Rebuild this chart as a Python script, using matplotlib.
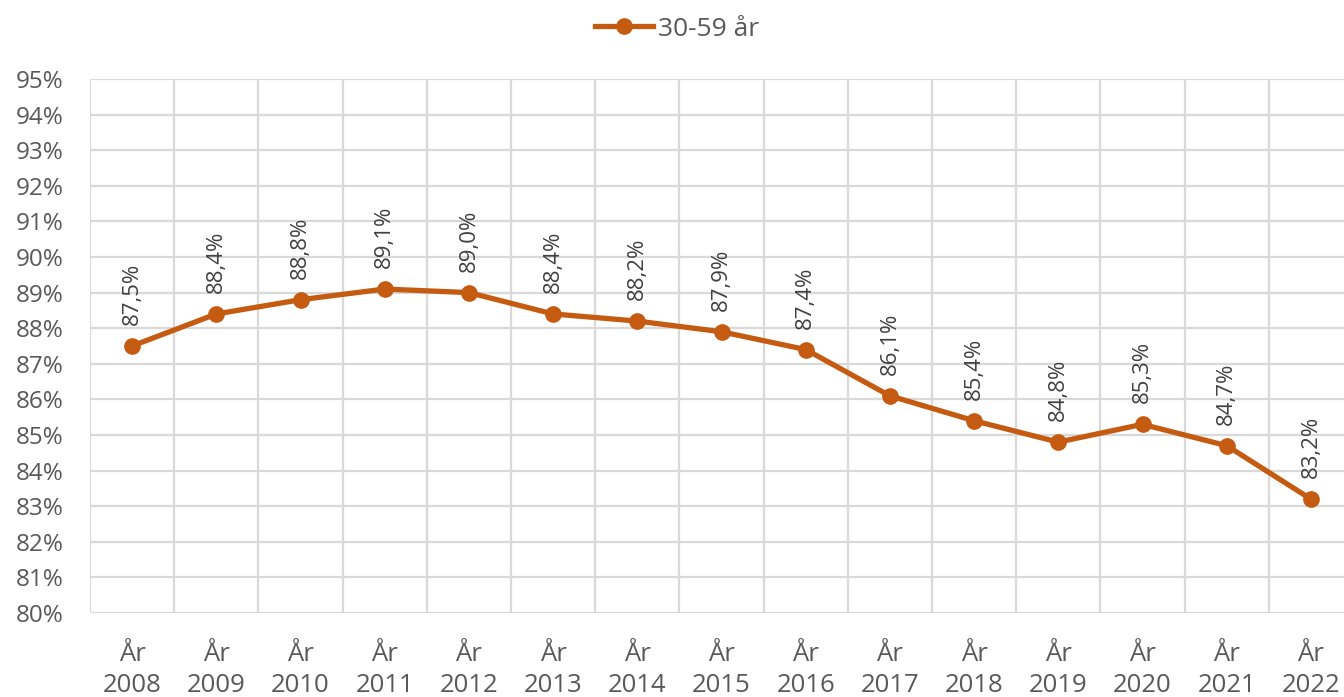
import matplotlib

matplotlib.use("Agg")
import matplotlib.pyplot as plt
from matplotlib.ticker import FixedLocator

YEARS = [2008, 2009, 2010, 2011, 2012, 2013, 2014, 2015, 2016, 2017, 2018,
         2019, 2020, 2021, 2022]
SHARE = [87.5, 88.4, 88.8, 89.1, 89.0, 88.4, 88.2, 87.9, 87.4, 86.1, 85.4,
         84.8, 85.3, 84.7, 83.2]
SERIES = "30-59 år"
YTICKS = list(range(80, 96))

ORANGE = "#C55A11"
GRID = "#D9D9D9"
TXT = "#595959"

plt.rcParams["font.family"] = ["Open Sans", "DejaVu Sans"]


def main() -> None:
    fig = plt.figure(figsize=(13.44, 6.97), dpi=100)
    ax = fig.add_axes([90 / 1344, 1 - 613 / 697, 1263 / 1344, 534 / 697])

    x = list(range(len(YEARS)))
    ax.plot(x, SHARE, "o-", color=ORANGE, lw=3.8, ms=11, label=SERIES,
            zorder=3, clip_on=False)

    for xi, v in zip(x, SHARE):
        ax.annotate(f"{v:.1f}%".replace(".", ","), (xi, v), rotation=90,
                    ha="center", va="bottom", fontsize=16, color="#404040",
                    textcoords="offset points", xytext=(0, 15))

    ax.set_xlim(-0.5, len(YEARS) - 0.5)
    ax.set_ylim(80, 95)
    ax.set_yticks(YTICKS)
    ax.set_yticklabels([f"{t}%" for t in YTICKS])
    ax.set_xticks(x)
    ax.set_xticklabels([f"År\n{y}" for y in YEARS], linespacing=1.3)
    ax.xaxis.set_minor_locator(FixedLocator([i - 0.5 for i in range(len(YEARS) + 1)]))

    ax.grid(axis="y", which="major", color=GRID, lw=1.6)
    ax.grid(axis="x", which="minor", color=GRID, lw=1.6)
    ax.grid(axis="x", which="major", visible=False)
    ax.set_axisbelow(True)
    for s in ax.spines.values():
        s.set_visible(False)
    ax.tick_params(axis="both", which="both", length=0, colors=TXT)
    ax.tick_params(axis="y", pad=19, labelsize=17.5)
    ax.tick_params(axis="x", pad=21, labelsize=18.5)

    fig.legend(loc="center", bbox_to_anchor=(677 / 1344, 1 - 29 / 697),
               frameon=False, fontsize=19, labelcolor=TXT, handlelength=2.2,
               handletextpad=0.2)

    fig.savefig("out.png", dpi=100)


if __name__ == "__main__":
    main()
